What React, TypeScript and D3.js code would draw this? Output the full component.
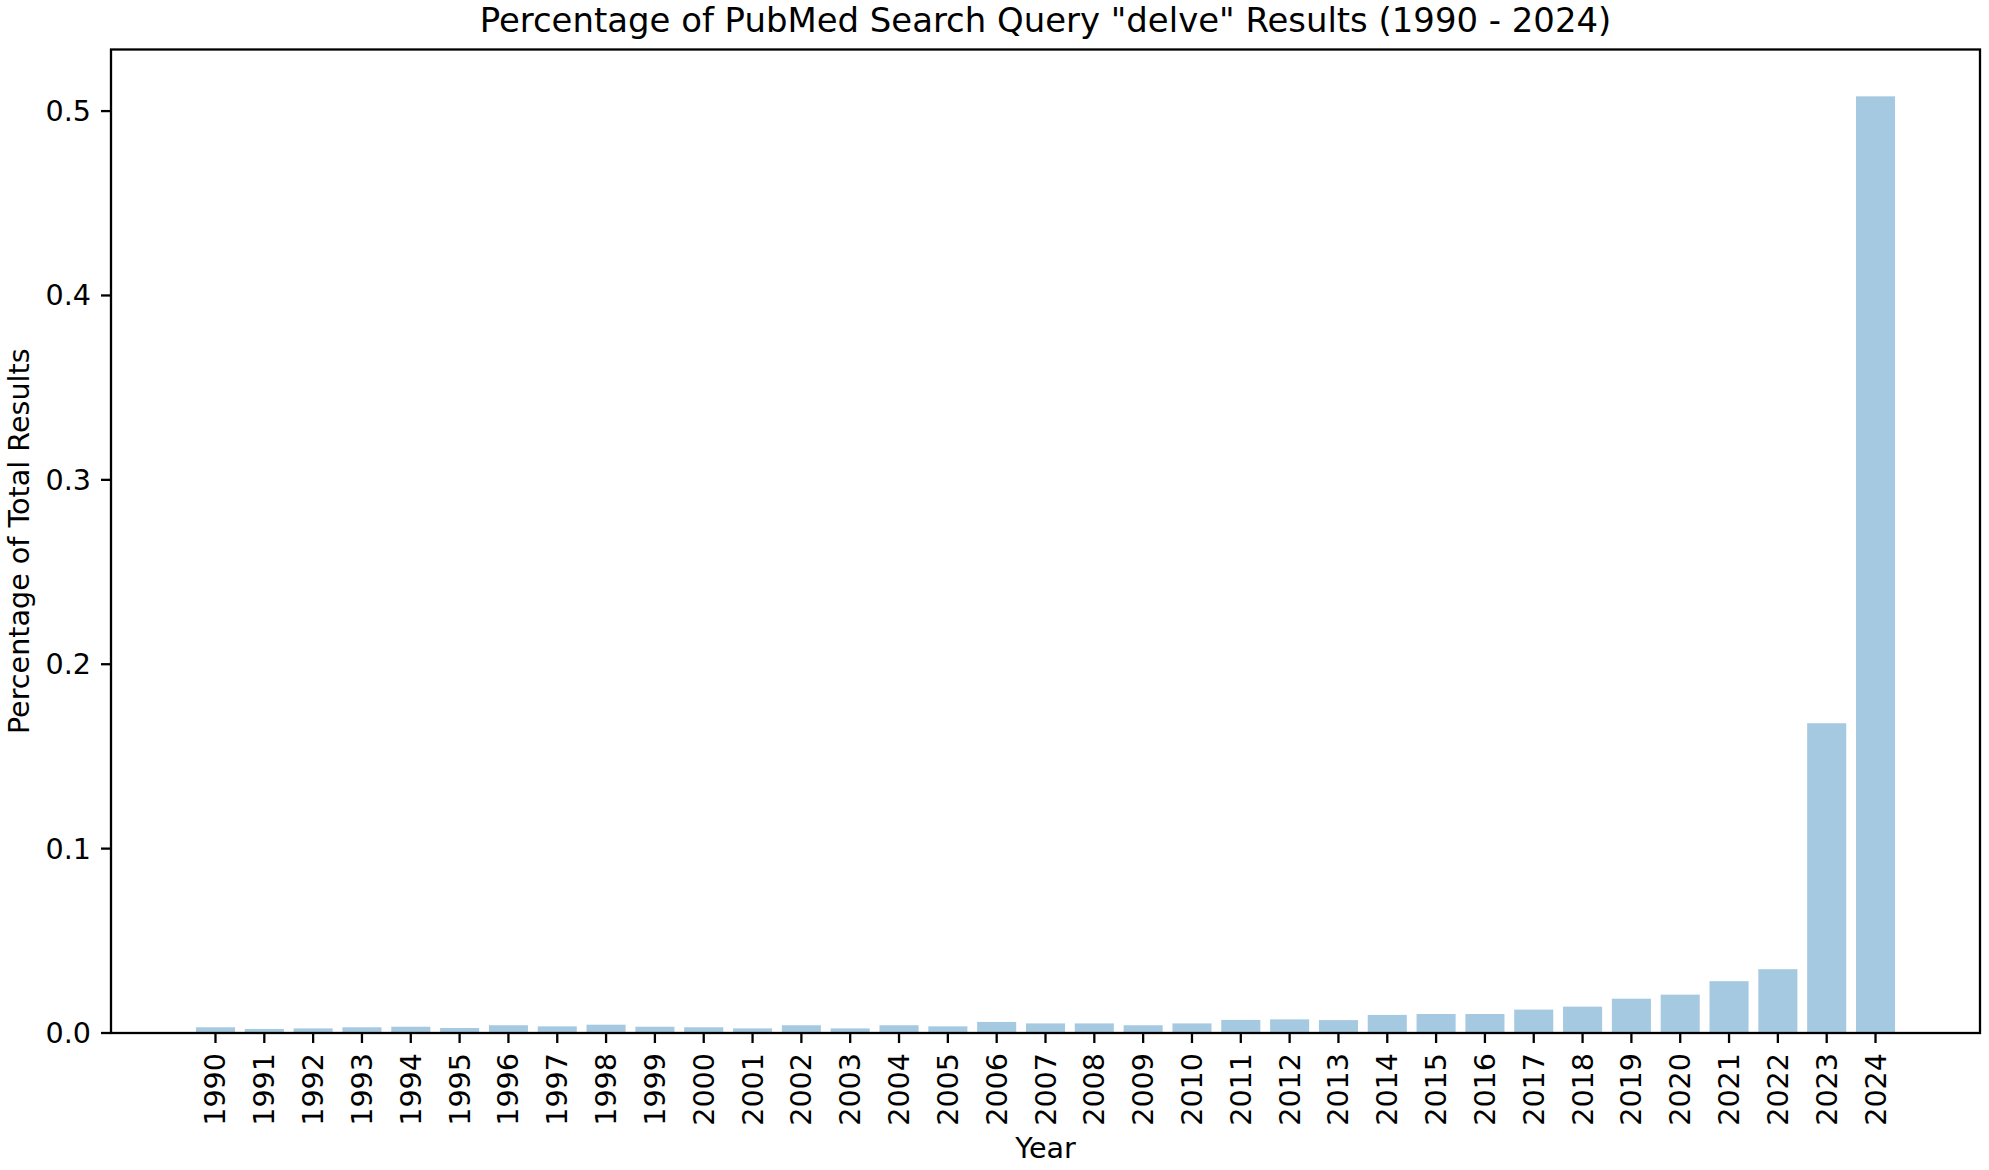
import React from "react";
import * as d3 from "d3";

const years: string[] = [
  "1990", "1991", "1992", "1993", "1994", "1995", "1996", "1997", "1998", "1999",
  "2000", "2001", "2002", "2003", "2004", "2005", "2006", "2007", "2008", "2009",
  "2010", "2011", "2012", "2013", "2014", "2015", "2016", "2017", "2018", "2019",
  "2020", "2021", "2022", "2023", "2024",
];

const percentages: number[] = [
  0.0031, 0.0022, 0.0025, 0.0031, 0.0034, 0.0027, 0.0042, 0.0036, 0.0045, 0.0034,
  0.0031, 0.0025, 0.0042, 0.0025, 0.0042, 0.0036, 0.006, 0.0052, 0.0052, 0.0042,
  0.0052, 0.0071, 0.0074, 0.007, 0.0098, 0.0103, 0.0103, 0.0127, 0.0143, 0.0186,
  0.0208, 0.0281, 0.0346, 0.168, 0.508,
];

const yTicks: number[] = [0, 0.1, 0.2, 0.3, 0.4, 0.5];

const titleText = 'Percentage of PubMed Search Query "delve" Results (1990 - 2024)';
const xLabel = "Year";
const yLabel = "Percentage of Total Results";

const W = 1989;
const H = 1170;
const left = 111;
const right = 1980;
const top = 49.5;
const bottom = 1033;
const FONT = "'DejaVu Sans', sans-serif";
const TICK = 10;
const PAD = 10;
const barWidth = 0.8;

export default function App() {
  const n = years.length;
  const dataMin = -barWidth / 2;
  const dataMax = n - 1 + barWidth / 2;
  const margin = (dataMax - dataMin) * 0.05;
  const x = d3.scaleLinear().domain([dataMin - margin, dataMax + margin]).range([left, right]);
  const yMax = d3.max(percentages)! * 1.05;
  const y = d3.scaleLinear().domain([0, yMax]).range([bottom, top]);
  const fmt = d3.format(".1f");

  return (
    <svg
      width={W}
      height={H}
      style={{ position: "absolute", left: 0, top: 0, background: "#fff" }}
      fontFamily={FONT}
    >
      <rect x={0} y={0} width={W} height={H} fill="#fff" />
      {percentages.map((v, i) => (
        <rect
          key={years[i]}
          x={x(i - barWidth / 2)}
          width={x(i + barWidth / 2) - x(i - barWidth / 2)}
          y={y(v)}
          height={y(0) - y(v)}
          fill="#1f77b4"
          fillOpacity={0.4}
        />
      ))}
      <rect
        x={left}
        y={top}
        width={right - left}
        height={bottom - top}
        fill="none"
        stroke="#000"
        strokeWidth={2.3}
      />
      {yTicks.map((t) => (
        <g key={t}>
          <line x1={left - TICK} x2={left} y1={y(t)} y2={y(t)} stroke="#000" strokeWidth={2.3} />
          <text
            x={left - TICK - PAD}
            y={y(t)}
            textAnchor="end"
            dominantBaseline="central"
            fontSize={28.6}
            fill="#000"
          >
            {fmt(t)}
          </text>
        </g>
      ))}
      {years.map((yr, i) => (
        <g key={yr}>
          <line x1={x(i)} x2={x(i)} y1={bottom} y2={bottom + TICK} stroke="#000" strokeWidth={2.3} />
          <text
            transform={`translate(${x(i)},${bottom + TICK + PAD}) rotate(-90)`}
            textAnchor="end"
            dominantBaseline="central"
            fontSize={28.6}
            fill="#000"
          >
            {yr}
          </text>
        </g>
      ))}
      <text x={(left + right) / 2} y={32} textAnchor="middle" fontSize={33.9} fill="#000">
        {titleText}
      </text>
      <text x={(left + right) / 2} y={1158} textAnchor="middle" fontSize={28.6} fill="#000">
        {xLabel}
      </text>
      <text
        transform={`translate(19,${(top + bottom) / 2}) rotate(-90)`}
        textAnchor="middle"
        dominantBaseline="central"
        fontSize={28.6}
        fill="#000"
      >
        {yLabel}
      </text>
    </svg>
  );
}
